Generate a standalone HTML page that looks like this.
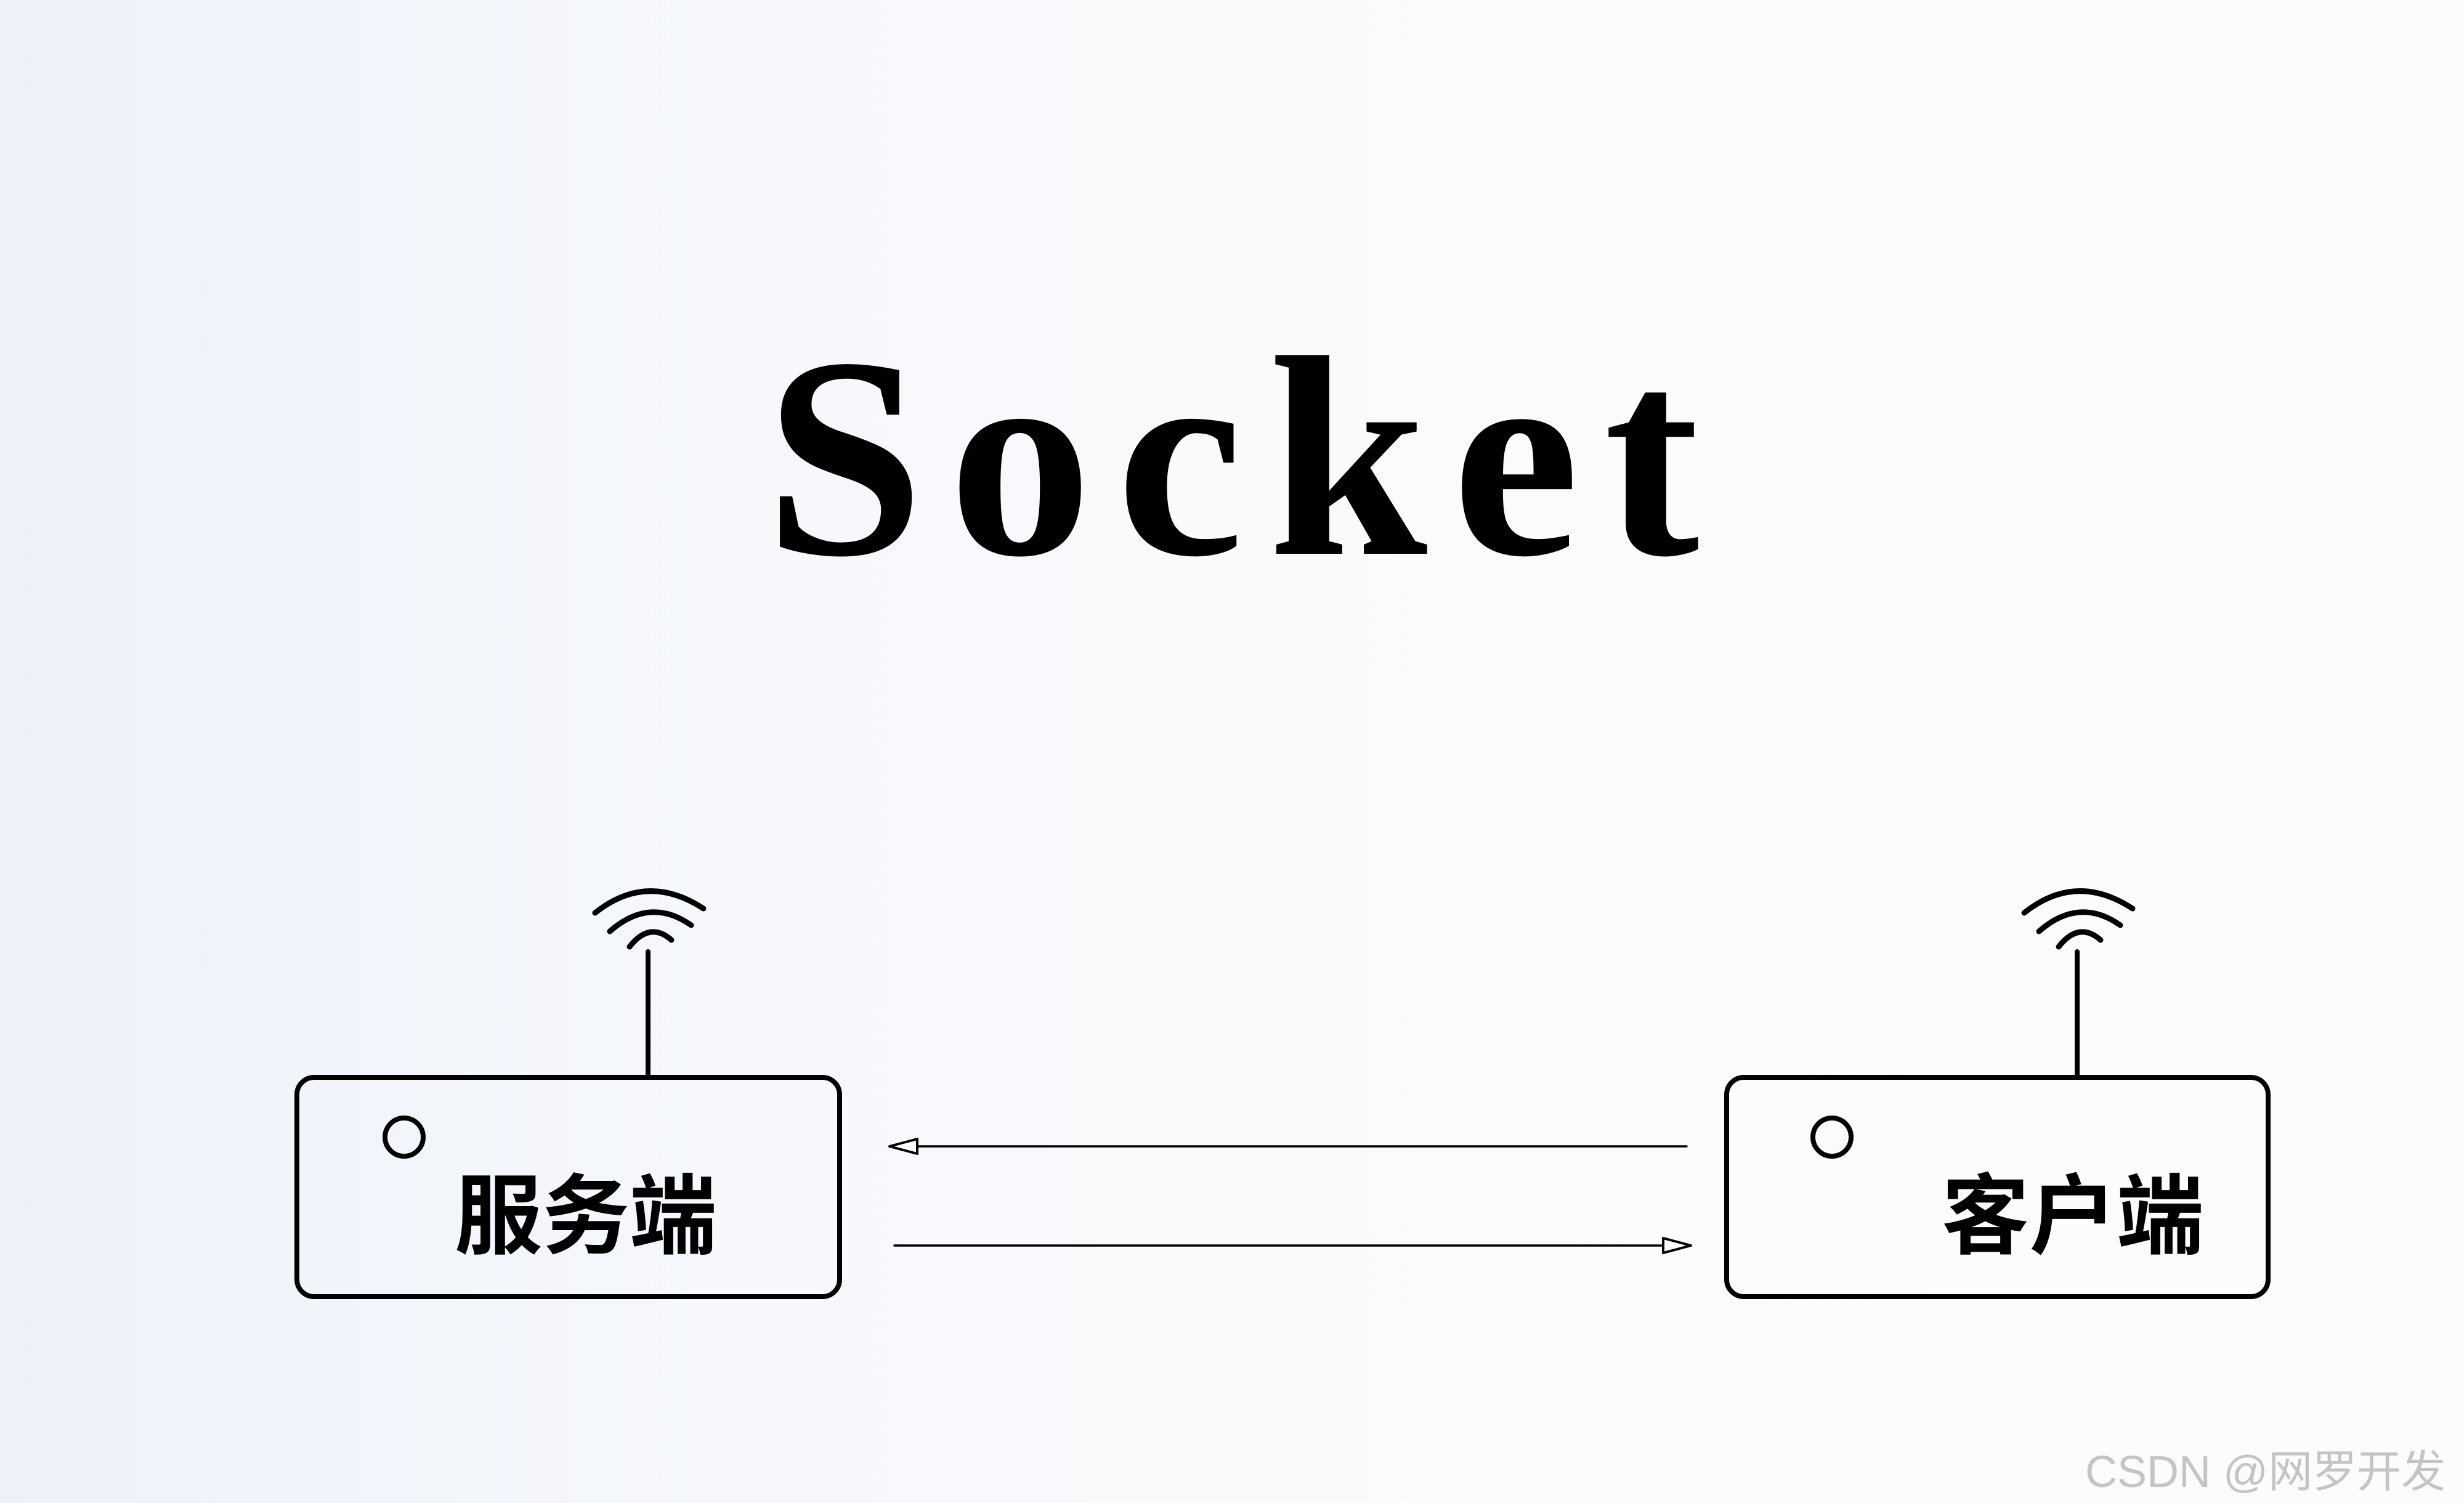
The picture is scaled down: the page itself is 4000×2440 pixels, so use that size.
<!DOCTYPE html>
<html><head><meta charset="utf-8"><style>
html,body{margin:0;padding:0}
body{width:4000px;height:2440px;overflow:hidden;background:linear-gradient(90deg,#edf2fa 0%,#f6f8fc 30%,#fbfbfc 60%,#fcfcfc 100%);position:relative}
.t{position:absolute;left:1240px;top:510px;width:1560px;text-align:center;font-family:"Liberation Serif",serif;font-weight:bold;font-size:465px;letter-spacing:40px;color:#000;line-height:1}
.wm{position:absolute;left:3385px;top:2330px;font-family:"Liberation Sans","Noto Sans CJK SC",sans-serif;font-size:72px;color:#c4c4c4}
.lbl{position:absolute;font-family:"Liberation Sans","Noto Sans CJK SC",sans-serif;font-weight:bold;font-size:142px;color:#000;line-height:1}
</style></head><body>
<div class="t">Socket</div>
<svg width="4000" height="2440" style="position:absolute;left:0;top:0">
<g fill="none" stroke="#000" stroke-linecap="round">
<rect x="482" y="1749" width="881" height="356" rx="28" stroke-width="8"/>
<rect x="2803" y="1749" width="879" height="356" rx="28" stroke-width="8"/>
<circle cx="656" cy="1846" r="31" stroke-width="8"/>
<circle cx="2974" cy="1846" r="31" stroke-width="8"/>
<line x1="1052" y1="1545" x2="1052" y2="1745" stroke-width="8"/>
<line x1="3372" y1="1545" x2="3372" y2="1745" stroke-width="8"/>
<path d="M966 1482 Q1050 1415 1142 1475" stroke-width="9"/>
<path d="M990 1512 Q1055 1455 1122 1502" stroke-width="9"/>
<path d="M1022 1537 Q1055 1495 1090 1526" stroke-width="9"/>
<path d="M3286 1482 Q3370 1415 3462 1475" stroke-width="9"/>
<path d="M3310 1512 Q3375 1455 3442 1502" stroke-width="9"/>
<path d="M3342 1537 Q3375 1495 3410 1526" stroke-width="9"/>
<line x1="1452" y1="1861" x2="2738" y2="1861" stroke-width="3.5"/>
<path d="M1444 1861 L1489 1849 L1489 1873 Z" stroke-width="4" stroke-linejoin="round" fill="#fff"/>
<line x1="1452" y1="2022" x2="2700" y2="2022" stroke-width="3.5"/>
<path d="M2745 2022 L2700 2010 L2700 2034 Z" stroke-width="4" stroke-linejoin="round" fill="#fff"/>
</g>
</svg>
<div class="lbl" style="left:738px;top:1905px">服务端</div>
<div class="lbl" style="left:3152px;top:1905px">客户端</div>
<div class="wm">CSDN @网罗开发</div>
</body></html>
